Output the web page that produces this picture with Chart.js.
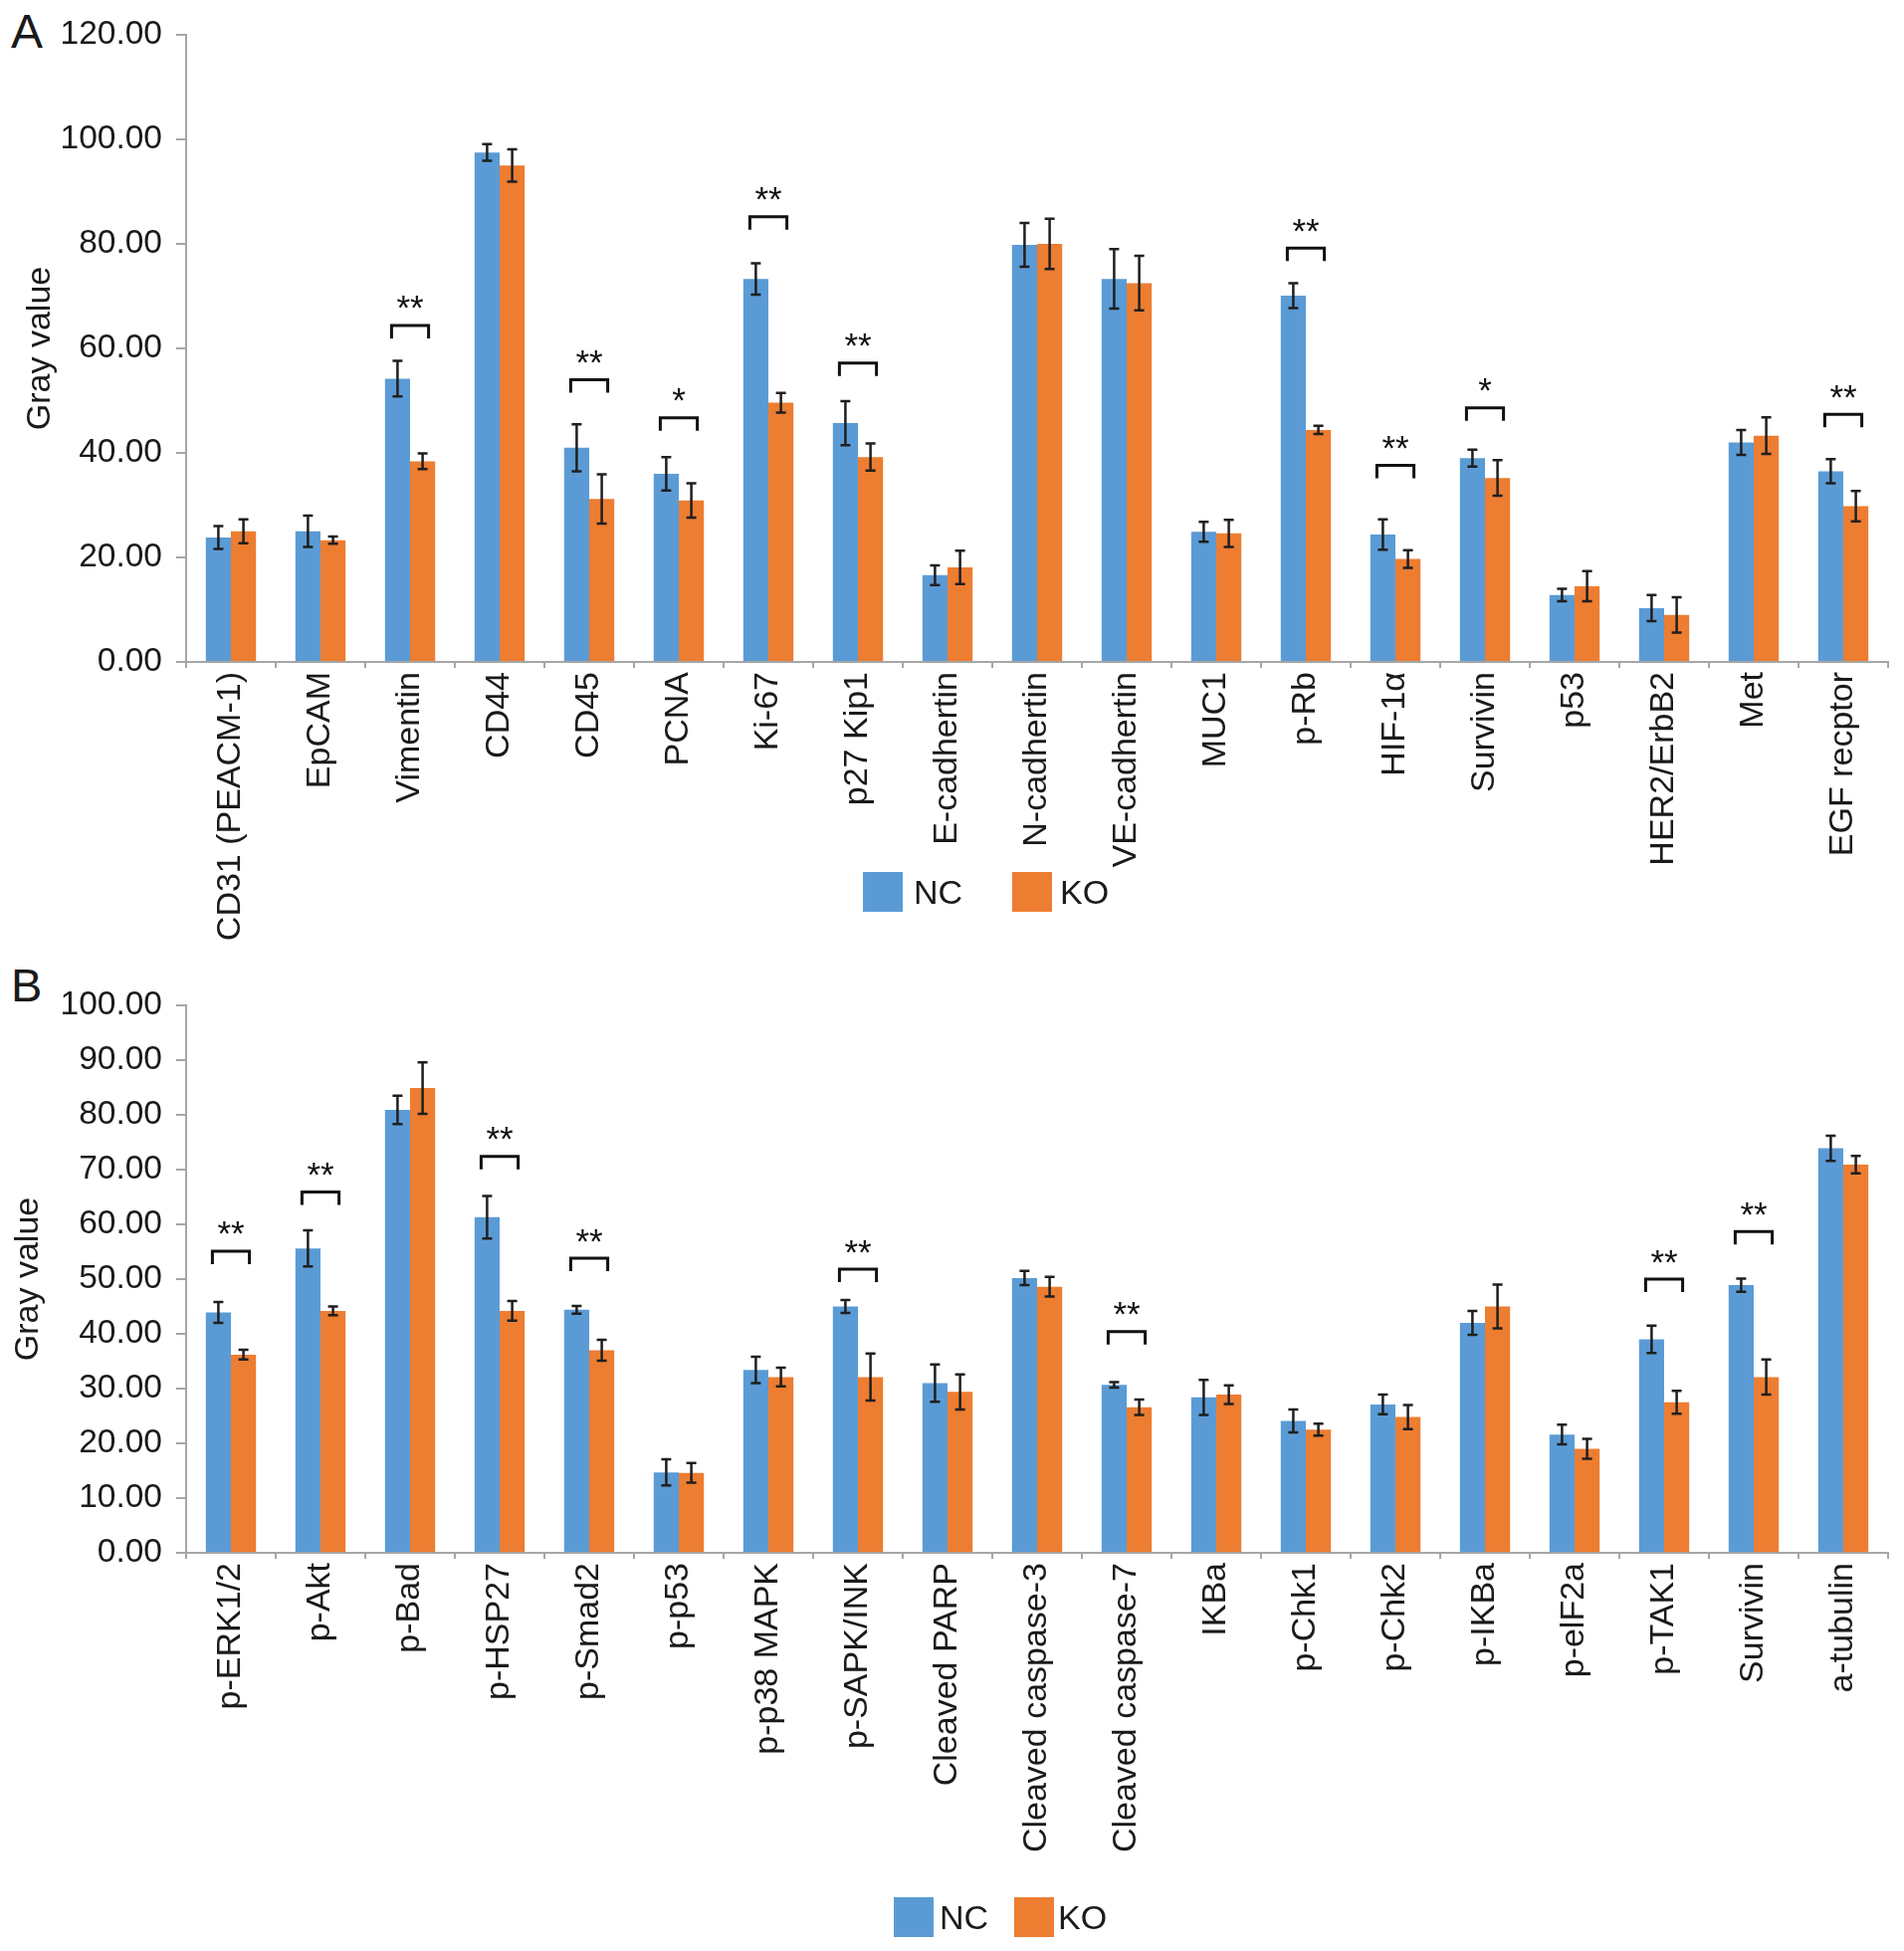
<!DOCTYPE html>
<html>
<head>
<meta charset="utf-8">
<title>Gray value NC vs KO</title>
<script src="https://cdn.jsdelivr.net/npm/chart.js@4.4.1/dist/chart.umd.min.js"></script>
<style>
  html, body { margin: 0; padding: 0; background: #fff; }
  body { width: 1913px; height: 1960px; position: relative; overflow: hidden;
         font-family: "Liberation Sans", Arial, sans-serif; color: #1a1a1a; }
  .panel { position: absolute; left: 0; width: 1913px; }
  .tag { position: absolute; line-height: 1; }
  .box { position: absolute; width: 40px; height: 40px; }
  .lbl { position: absolute; font-size: 34px; line-height: 40px; height: 40px; }
</style>
</head>
<body>
<div class="tag" style="left:11px; top:8px; font-size:48px;">A</div>
<div class="panel" style="top:0; height:960px;"><canvas id="chartA"></canvas></div>
<div class="box" style="left:867px; top:876px; background:#5B9BD5;"></div>
<div class="lbl" style="left:918px; top:876px;">NC</div>
<div class="box" style="left:1017px; top:876px; background:#ED7D31;"></div>
<div class="lbl" style="left:1065px; top:876px;">KO</div>

<div class="tag" style="left:11px; top:966px; font-size:47px;">B</div>
<div class="panel" style="top:960px; height:1000px;"><canvas id="chartB"></canvas></div>
<div class="box" style="left:898px; top:1906px; background:#5B9BD5;"></div>
<div class="lbl" style="left:944px; top:1906px;">NC</div>
<div class="box" style="left:1019px; top:1906px; background:#ED7D31;"></div>
<div class="lbl" style="left:1063px; top:1906px;">KO</div>

<script>
// Colours (Excel defaults)
const BLUE = '#5B9BD5';
const ORANGE = '#ED7D31';
const AXIS = '#a6a6a6';
const INK = '#1a1a1a';
const FONT = '"Liberation Sans", Arial, sans-serif';

// Panel A
const labelsA = ['CD31 (PEACM-1)', 'EpCAM', 'Vimentin', 'CD44', 'CD45', 'PCNA', 'Ki-67', 'p27 Kip1',
    'E-cadhertin', 'N-cadhertin', 'VE-cadhertin', 'MUC1', 'p-Rb', 'HIF-1\u03b1', 'Survivin', 'p53',
    'HER2/ErbB2', 'Met', 'EGF recptor'];
const ncA    = [23.8, 25.0, 54.2, 97.5, 41.0, 36.0, 73.3, 45.7, 16.6, 79.8, 73.3, 24.9, 70.1, 24.4, 39.0, 12.8, 10.3, 42.0, 36.5];
const ncErrA = [2.2, 3.0, 3.4, 1.6, 4.5, 3.2, 3.0, 4.2, 1.9, 4.2, 5.7, 1.9, 2.4, 2.9, 1.6, 1.2, 2.5, 2.4, 2.3];
const koA    = [25.0, 23.3, 38.4, 95.0, 31.2, 30.9, 49.6, 39.2, 18.1, 80.0, 72.5, 24.6, 44.4, 19.7, 35.2, 14.5, 9.0, 43.3, 29.8];
const koErrA = [2.3, 0.7, 1.5, 3.1, 4.7, 3.3, 1.9, 2.6, 3.2, 4.8, 5.2, 2.6, 0.8, 1.7, 3.4, 2.9, 3.4, 3.5, 2.9];
const starsA   = ['', '', '**', '', '**', '*', '**', '**', '', '', '', '', '**', '**', '*', '', '', '', '**'];
const bracketA = [null, null, 64.4, null, 54.0, 46.7, 85.2, 57.2, null, null, null, null, 79.2, 37.6, 48.6, null, null, null, 47.4];
const yTicksA = [0, 20, 40, 60, 80, 100, 120];

// Panel B
const labelsB = ['p-ERK1/2', 'p-Akt', 'p-Bad', 'p-HSP27', 'p-Smad2', 'p-p53', 'p-p38 MAPK', 'p-SAPK/INK',
    'Cleaved PARP', 'Cleaved caspase-3', 'Cleaved caspase-7', 'IKBa', 'p-Chk1', 'p-Chk2', 'p-IKBa',
    'p-elF2a', 'p-TAK1', 'Survivin', 'a-tubulin'];
const ncB    = [43.9, 55.6, 80.9, 61.3, 44.4, 14.7, 33.4, 45.0, 31.0, 50.2, 30.7, 28.4, 24.1, 27.1, 42.0, 21.6, 39.0, 48.9, 73.9];
const ncErrB = [1.9, 3.3, 2.6, 3.9, 0.7, 2.4, 2.4, 1.2, 3.4, 1.3, 0.5, 3.2, 2.1, 1.8, 2.2, 1.8, 2.5, 1.2, 2.3];
const koB    = [36.2, 44.2, 84.9, 44.2, 37.0, 14.6, 32.1, 32.1, 29.4, 48.6, 26.6, 28.9, 22.5, 24.8, 45.0, 19.0, 27.5, 32.1, 70.9];
const koErrB = [0.9, 0.8, 4.7, 1.8, 1.9, 1.8, 1.7, 4.3, 3.2, 1.8, 1.4, 1.7, 1.1, 2.2, 4.0, 1.8, 2.1, 3.2, 1.6];
const starsB   = ['**', '**', '', '**', '**', '', '', '**', '', '', '**', '', '', '', '', '', '**', '**', ''];
const bracketB = [55.1, 65.9, null, 72.4, 53.8, null, null, 51.8, null, null, 40.4, null, null, null, null, null, 50.0, 58.7, null];
const yTicksB = [0, 10, 20, 30, 40, 50, 60, 70, 80, 90, 100];

// Error bars drawn from each dataset's errors array
const errorBars = {
    id: 'errorBars',
    afterDatasetsDraw(chart) {
        const { ctx } = chart;
        const y = chart.scales.y;
        ctx.save();
        ctx.strokeStyle = '#1f1f1f';
        ctx.lineWidth = 2.5;
        chart.data.datasets.forEach((ds, i) => {
            chart.getDatasetMeta(i).data.forEach((bar, j) => {
                const v = ds.data[j], e = ds.errors[j];
                const top = y.getPixelForValue(v + e);
                const bot = y.getPixelForValue(v - e);
                ctx.beginPath();
                ctx.moveTo(bar.x, top); ctx.lineTo(bar.x, bot);
                ctx.moveTo(bar.x - 5, top); ctx.lineTo(bar.x + 5, top);
                ctx.moveTo(bar.x - 5, bot); ctx.lineTo(bar.x + 5, bot);
                ctx.stroke();
            });
        });
        ctx.restore();
    }
};

// Significance brackets with stars
const brackets = {
    id: 'brackets',
    afterDatasetsDraw(chart, args, opts) {
        const { ctx } = chart;
        const y = chart.scales.y;
        const nc = chart.getDatasetMeta(0).data;
        const ko = chart.getDatasetMeta(1).data;
        ctx.save();
        ctx.strokeStyle = '#111';
        ctx.fillStyle = '#111';
        ctx.lineWidth = 3;
        ctx.font = '35px ' + FONT;
        ctx.textAlign = 'center';
        opts.levels.forEach((lv, j) => {
            if (lv == null) return;
            const x1 = nc[j].x - 6, x2 = ko[j].x + 6;
            const py = y.getPixelForValue(lv);
            ctx.beginPath();
            ctx.moveTo(x1, py + 13);
            ctx.lineTo(x1, py);
            ctx.lineTo(x2, py);
            ctx.lineTo(x2, py + 13);
            ctx.stroke();
            const s = opts.stars[j];
            const m = ctx.measureText(s);
            const cy = py - 23;
            ctx.fillText(s, (x1 + x2) / 2, cy + (m.actualBoundingBoxAscent - m.actualBoundingBoxDescent) / 2);
        });
        ctx.restore();
    }
};

function makeChart(id, p) {
    return new Chart(document.getElementById(id), {
        type: 'bar',
        data: {
            labels: p.labels,
            datasets: [
                { label: 'NC', data: p.nc, errors: p.ncErr, backgroundColor: BLUE, borderWidth: 0,
                  categoryPercentage: 0.56, barPercentage: 1 },
                { label: 'KO', data: p.ko, errors: p.koErr, backgroundColor: ORANGE, borderWidth: 0,
                  categoryPercentage: 0.56, barPercentage: 1 }
            ]
        },
        options: {
            responsive: true,
            maintainAspectRatio: false,
            animation: false,
            layout: { padding: { top: p.top, right: 16, left: 0, bottom: 0 } },
            plugins: {
                legend: { display: false },
                tooltip: { enabled: false },
                brackets: { stars: p.stars, levels: p.levels }
            },
            scales: {
                x: {
                    grid: { display: true, drawOnChartArea: false, drawTicks: true, tickLength: 6,
                            color: AXIS, lineWidth: 2, offset: true },
                    border: { display: true, color: AXIS, width: 2 },
                    ticks: { autoSkip: false, maxRotation: 90, minRotation: 90, padding: 4,
                             color: INK, font: { family: FONT, size: 34 } },
                    afterFit: s => { s.height = p.xHeight; }
                },
                y: {
                    min: 0,
                    max: p.ticks[p.ticks.length - 1],
                    afterBuildTicks: s => { s.ticks = p.ticks.map(v => ({ value: v })); },
                    grid: { drawOnChartArea: false, drawTicks: true, tickLength: 10, color: AXIS, lineWidth: 2 },
                    border: { display: true, color: AXIS, width: 2 },
                    ticks: { padding: 14, color: INK, font: { family: FONT, size: 33.5 },
                             callback: v => Number(v).toFixed(2) },
                    title: { display: true, text: 'Gray value', color: INK,
                             font: { family: FONT, size: 34 }, padding: { top: p.titlePad, bottom: 0 } },
                    afterFit: s => { s.width = 187; }
                }
            }
        },
        plugins: [errorBars, brackets]
    });
}

makeChart('chartA', {
    labels: labelsA, nc: ncA, ko: koA, ncErr: ncErrA, koErr: koErrA,
    stars: starsA, levels: bracketA, ticks: yTicksA,
    top: 35, xHeight: 960 - 665, titlePad: 20
});

makeChart('chartB', {
    labels: labelsB, nc: ncB, ko: koB, ncErr: ncErrB, koErr: koErrB,
    stars: starsB, levels: bracketB, ticks: yTicksB,
    top: 50, xHeight: 1000 - 600, titlePad: 8
});
</script>
</body>
</html>
